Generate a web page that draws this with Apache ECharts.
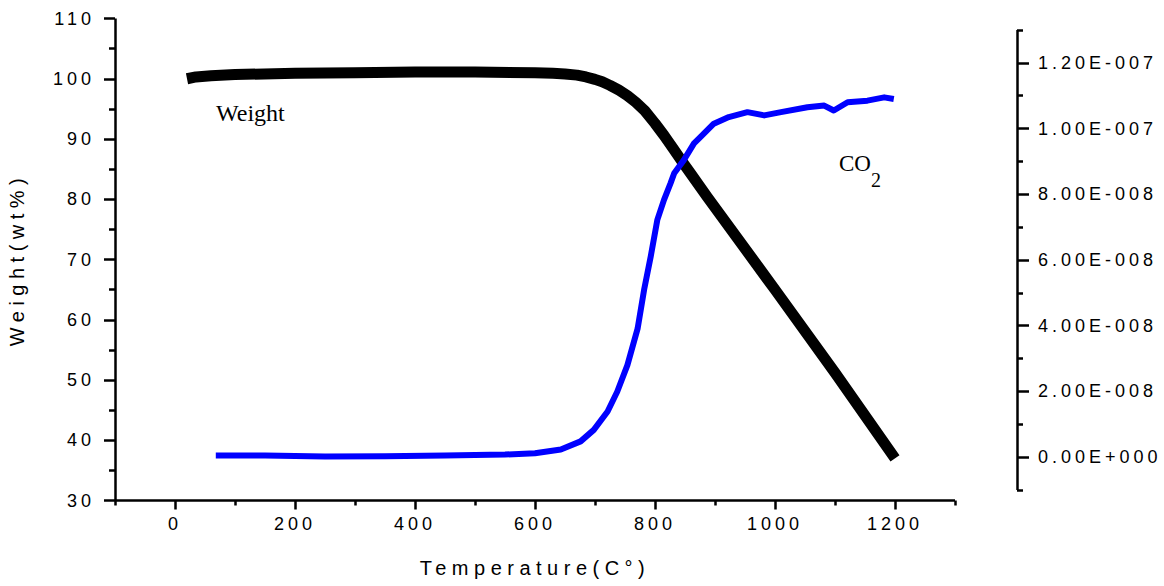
<!DOCTYPE html>
<html><head><meta charset="utf-8">
<script src="https://cdn.jsdelivr.net/npm/echarts@6/dist/echarts.min.js"></script>
<style>
html,body{margin:0;padding:0;background:#fff}
#c{width:1164px;height:586px}
#c text[style*="Liberation Sans"]{letter-spacing:4px}
#c text[style*="sans-serif"]{letter-spacing:5.5px}
</style></head><body><div id="c"></div>
<script>
// Weight curve (left axis, wt%)
const weightTemp = [20, 35, 60, 100, 200, 300, 400, 500, 600, 630, 650, 670, 685, 700, 712, 725, 740, 754, 768, 783, 800, 815, 831, 845, 860, 887, 1000, 1100, 1200];
const weightPct  = [100.0, 100.3, 100.5, 100.7, 100.9, 101.0, 101.1, 101.1, 101.0, 100.9, 100.8, 100.6, 100.3, 99.9, 99.5, 98.9, 98.1, 97.2, 96.1, 94.7, 92.6, 90.6, 88.3, 86.3, 84.2, 80.4, 65.0, 51.2, 37.0];
// CO2 signal (right axis)
const co2Temp = [68, 150, 250, 350, 450, 550, 600, 643, 676, 698, 721, 737, 754, 771, 782, 793, 804, 815, 826, 832, 848, 865, 876, 898, 923, 954, 982, 1010, 1054, 1082, 1098, 1121, 1154, 1182, 1198];
const co2Signal = [0.05e-8, 0.05e-8, 0.02e-8, 0.03e-8, 0.05e-8, 0.08e-8, 0.12e-8, 0.23e-8, 0.48e-8, 0.83e-8, 1.39e-8, 1.99e-8, 2.80e-8, 3.91e-8, 5.11e-8, 6.12e-8, 7.23e-8, 7.83e-8, 8.34e-8, 8.64e-8, 9.04e-8, 9.55e-8, 9.75e-8, 10.15e-8, 10.35e-8, 10.50e-8, 10.40e-8, 10.50e-8, 10.65e-8, 10.70e-8, 10.55e-8, 10.80e-8, 10.85e-8, 10.95e-8, 10.90e-8];
// Tick lists
const xMajorTicks = [0, 200, 400, 600, 800, 1000, 1200];
const xMinorTicks = [-100, 100, 300, 500, 700, 900, 1100, 1300];
const rightMajorTicks = [0, 2e-8, 4e-8, 6e-8, 8e-8, 1e-7, 1.2e-7];
const rightMinorTicks = [-1e-8, 1e-8, 3e-8, 5e-8, 7e-8, 9e-8, 1.1e-7, 1.3e-7];

const LBL = 'Liberation Sans';
const TTL = 'Liberation Sans, sans-serif';
const lineSt = {color: '#000', width: 2.5, cap: 'butt'};
const mainGrid = {left: 115, right: 209, top: 18.5, bottom: 85.5, outerBoundsMode: 'none'};
const rightGrid = {left: 115, right: 209, top: 30, bottom: 96, outerBoundsMode: 'none'};

function sciFmt(v) {
  const s = Number(v).toExponential(2);
  const parts = s.split('e');
  const sign = parts[1][0] === '-' ? '-' : '+';
  const exp = parts[1].replace(/[+-]/, '').padStart(3, '0');
  return parts[0] + 'E' + sign + exp;
}
const plainFmt = v => String(Math.round(v));

const chart = echarts.init(document.getElementById('c'), null, {renderer: 'svg'});
chart.setOption({
  animation: false,
  backgroundColor: '#fff',
  grid: [mainGrid, rightGrid, Object.assign({}, mainGrid), Object.assign({}, rightGrid)],
  xAxis: [
    {gridIndex: 0, type: 'value', min: -100, max: 1300, interval: 100,
     axisLine: {onZero: false, lineStyle: lineSt},
     axisTick: {customValues: xMajorTicks, length: 9, lineStyle: lineSt},
     axisLabel: {customValues: xMajorTicks, margin: 14, color: '#000', fontFamily: LBL, fontSize: 18, formatter: plainFmt},
     splitLine: {show: false},
     name: 'Temperature(C°)', nameLocation: 'middle', nameGap: 57,
     nameTextStyle: {color: '#000', fontFamily: TTL, fontSize: 20}},
    {gridIndex: 1, type: 'value', min: -100, max: 1300, show: false},
    {gridIndex: 2, type: 'value', min: -100, max: 1300, interval: 100,
     axisLine: {show: false, onZero: false},
     axisTick: {customValues: xMinorTicks, length: 5, lineStyle: lineSt},
     axisLabel: {show: false}, splitLine: {show: false}},
    {gridIndex: 3, type: 'value', min: -100, max: 1300, show: false}
  ],
  yAxis: [
    {gridIndex: 0, type: 'value', min: 30, max: 110, interval: 10, position: 'left',
     axisLine: {show: true, onZero: false, lineStyle: lineSt},
     axisTick: {show: true, length: 11, lineStyle: lineSt},
     minorTick: {show: true, splitNumber: 2, length: 6, lineStyle: lineSt},
     axisLabel: {margin: 20, color: '#000', fontFamily: LBL, fontSize: 18, formatter: plainFmt},
     splitLine: {show: false}, minorSplitLine: {show: false},
     name: 'Weight(wt%)', nameLocation: 'middle', nameGap: 88,
     nameTextStyle: {color: '#000', fontFamily: TTL, fontSize: 20}},
    {gridIndex: 1, type: 'value', min: -1e-8, max: 1.3e-7, interval: 1e-8, position: 'right', offset: 62,
     axisLine: {show: true, onZero: false, lineStyle: lineSt},
     axisTick: {show: true, customValues: rightMajorTicks, length: 12, lineStyle: lineSt},
     axisLabel: {customValues: rightMajorTicks, margin: 21, color: '#000', fontFamily: LBL, fontSize: 18, formatter: sciFmt},
     splitLine: {show: false}},
    {gridIndex: 2, type: 'value', min: 30, max: 110, show: false},
    {gridIndex: 3, type: 'value', min: -1e-8, max: 1.3e-7, interval: 1e-8, position: 'right', offset: 62,
     axisLine: {show: false, onZero: false},
     axisTick: {show: true, customValues: rightMinorTicks, length: 6, lineStyle: lineSt},
     axisLabel: {show: false}, splitLine: {show: false}}
  ],
  series: [
    {name: 'Weight', type: 'line', xAxisIndex: 0, yAxisIndex: 0, symbol: 'none',
     data: weightTemp.map((t, i) => [t, weightPct[i]]),
     lineStyle: {color: '#000', width: 11, cap: 'butt', join: 'round'}},
    {name: 'CO2', type: 'line', xAxisIndex: 1, yAxisIndex: 1, symbol: 'none',
     data: co2Temp.map((t, i) => [t, co2Signal[i]]),
     lineStyle: {color: '#0000ff', width: 6, cap: 'butt', join: 'round'}}
  ],
  graphic: [
    {type: 'text', left: 216, top: 101,
     style: {text: 'Weight', fill: '#000', font: '24px "Liberation Serif"'}},
    {type: 'text', left: 839, top: 152,
     style: {text: '{a|CO}{b|2}', fill: '#000',
       rich: {a: {fontFamily: 'Liberation Serif', fontSize: 23, color: '#000', verticalAlign: 'top'},
              b: {fontFamily: 'Liberation Serif', fontSize: 20, color: '#000', padding: [18, 0, 0, 0], verticalAlign: 'bottom'}}}}
  ]
});
</script></body></html>
